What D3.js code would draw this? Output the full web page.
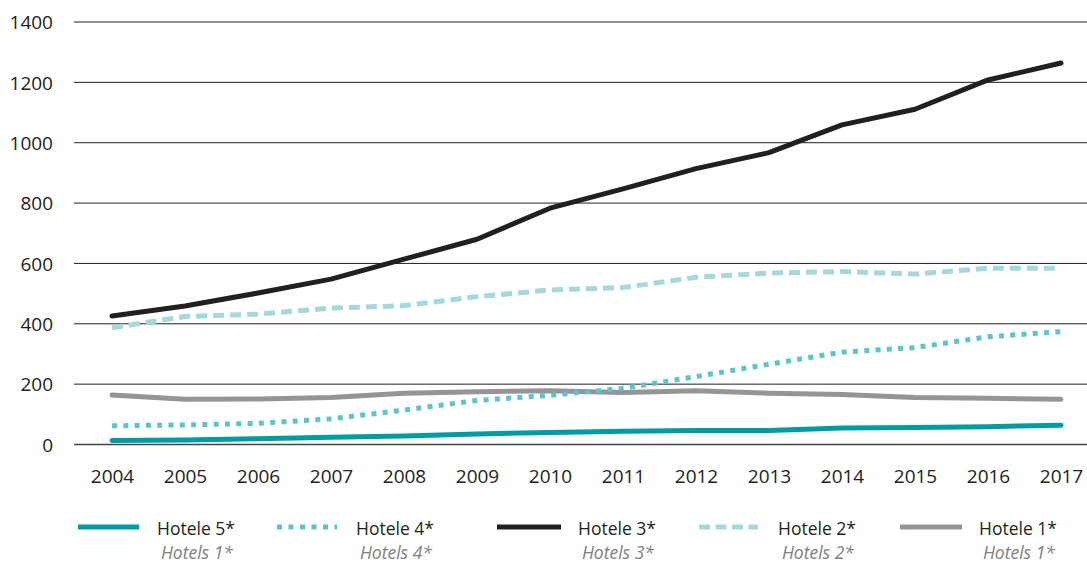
<!DOCTYPE html>
<html><head><meta charset="utf-8">
<script src="https://cdn.jsdelivr.net/npm/d3@7/dist/d3.min.js"></script>
<style>
body{margin:0;background:#fff;}
svg{display:block;font-family:"Open Sans",sans-serif;}
</style></head>
<body><svg id="c" width="1087" height="563"></svg>
<script>
const years = [2004,2005,2006,2007,2008,2009,2010,2011,2012,2013,2014,2015,2016,2017];
const yTicks = [0,200,400,600,800,1000,1200,1400];
const hotel5 = [13,15,19,24,28,35,40,44,46,46,55,56,59,64];
const hotel4 = [62,65,70,85,114,146,163,186,225,266,306,321,357,374];
const hotel3 = [426,459,502,548,614,680,783,847,914,967,1059,1111,1208,1264];
const hotel2 = [387,424,432,452,460,490,512,520,554,568,573,565,584,584];
const hotel1 = [164,150,151,156,170,175,178,172,178,170,166,156,153,150];
const seriesNames = ["Hotele 5*","Hotele 4*","Hotele 3*","Hotele 2*","Hotele 1*"];
const seriesSub = ["Hotels 1*","Hotels 4*","Hotels 3*","Hotels 2*","Hotels 1*"];

const series = [
  {name:seriesNames[0], sub:seriesSub[0], values:hotel5, color:"#009ca6", dash:null, cap:"round", w:5},
  {name:seriesNames[1], sub:seriesSub[1], values:hotel4, color:"#5bc5cb", dash:"5,6.3", cap:"butt", w:5},
  {name:seriesNames[2], sub:seriesSub[2], values:hotel3, color:"#231f20", dash:null, cap:"round", w:5},
  {name:seriesNames[3], sub:seriesSub[3], values:hotel2, color:"#a3d9dc", dash:"11,6", cap:"butt", w:5},
  {name:seriesNames[4], sub:seriesSub[4], values:hotel1, color:"#939598", dash:null, cap:"round", w:5}
];

const svg = d3.select("#c");
const x = d3.scaleLinear().domain([2004,2017]).range([112,1061]);
const y = d3.scaleLinear().domain([0,1400]).range([444.5,22]);

// grid
const grid = svg.append("g");
grid.selectAll("line").data(yTicks).join("line")
  .attr("x1",74).attr("x2",1087)
  .attr("y1",d=>y(d)).attr("y2",d=>y(d))
  .attr("stroke",d=>d===0?"#444":"#231f20").attr("stroke-width",d=>d===0?1.6:1);

// y labels
const yAxis = d3.axisLeft(y).tickValues(yTicks).tickFormat(d3.format("d")).tickSize(0).tickPadding(0);
const ya = svg.append("g").attr("transform","translate(53,0)").call(yAxis);
ya.select(".domain").remove();
ya.selectAll("text").attr("font-size",19).attr("fill","#231f20").attr("font-family","Open Sans").attr("dy","0.36em");

// x labels
const xAxis = d3.axisBottom(x).tickValues(years).tickFormat(d3.format("d")).tickSize(0).tickPadding(0);
const xa = svg.append("g").attr("transform","translate(0,464)").call(xAxis);
xa.select(".domain").remove();
xa.selectAll("text").attr("font-size",19).attr("fill","#231f20").attr("font-family","Open Sans").attr("dy","0.98em");

// lines
const line = d3.line().x((d,i)=>x(years[i])).y(d=>y(d));
const order = [4,3,1,0,2];
order.forEach(k=>{
  const s = series[k];
  svg.append("path").attr("d",line(s.values))
    .attr("fill","none").attr("stroke",s.color).attr("stroke-width",s.w)
    .attr("stroke-linecap",s.cap).attr("stroke-linejoin","round")
    .attr("stroke-dasharray",s.dash);
});

// legend
const legX = [78,277,497,699,900];
const legW = [61,60,64,59,62];
const leg = svg.append("g");
series.forEach((s,i)=>{
  const g = leg.append("g").attr("transform",`translate(${legX[i]},0)`);
  g.append("line").attr("x1",0).attr("x2",legW[i]).attr("y1",527).attr("y2",527)
    .attr("stroke",s.color).attr("stroke-width",5)
    .attr("stroke-dasharray",s.dash ? (i===1?"5,6.5":"11,5.5") : null);
  const tx = i===2 ? 81 : 79;
  const t = g.append("text").attr("x",tx).attr("y",535).attr("font-size",17.5)
    .attr("fill","#231f20").text(s.name);
  const w = t.node().getComputedTextLength();
  g.append("text").attr("x",tx+w-2).attr("y",559).attr("font-size",17.5)
    .attr("font-style","italic").attr("fill","#808080").attr("text-anchor","end").text(s.sub);
});
</script></body></html>
